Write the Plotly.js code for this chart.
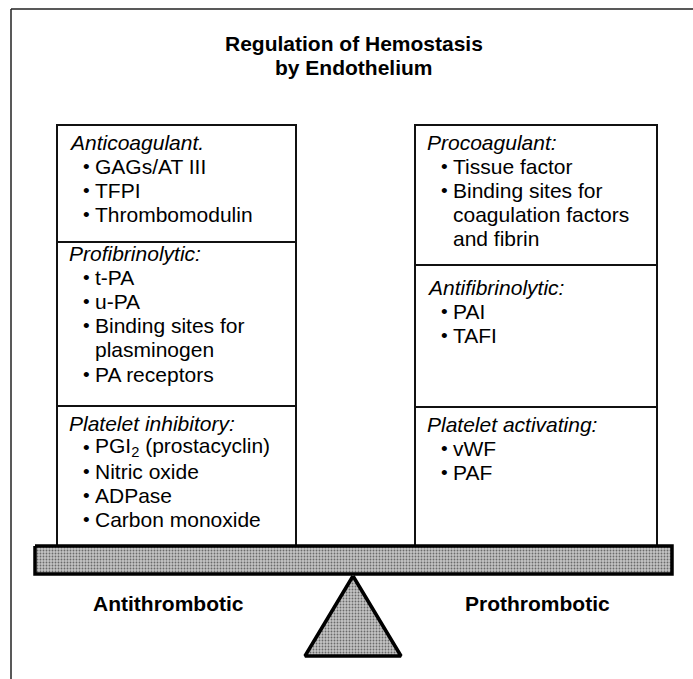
<!DOCTYPE html>
<html><head><meta charset="utf-8">
<script src="https://cdn.plot.ly/plotly-3.0.1.min.js"></script>
<style>html,body{margin:0;padding:0;background:#fff}</style>
</head><body><div id="chart" style="width:693px;height:679px"></div>
<script>
// ---- content ----
const titleLines = ["Regulation of Hemostasis", "by Endothelium"];
const sideLabels = ["Antithrombotic", "Prothrombotic"];
const leftHeaders = ["Anticoagulant.", "Profibrinolytic:", "Platelet inhibitory:"];
const leftItems = [
  ["GAGs/AT III", "TFPI", "Thrombomodulin"],
  ["t-PA", "u-PA", "Binding sites for|plasminogen", "PA receptors"],
  ["PGI<sub>2</sub> (prostacyclin)", "Nitric oxide", "ADPase", "Carbon monoxide"]
];
const rightHeaders = ["Procoagulant:", "Antifibrinolytic:", "Platelet activating:"];
const rightItems = [
  ["Tissue factor", "Binding sites for|coagulation factors|and fibrin"],
  ["PAI", "TAFI"],
  ["vWF", "PAF"]
];

// ---- layout geometry (pixels, y down) ----
const W = 693, H = 679;
const FONT = "'Liberation Sans', Arial, Helvetica, sans-serif";
const boxTop = 125, boxBottom = 546;
const columns = [
  {x0: 57, x1: 296, dividers: [242, 406], headerY: [142, 253, 423], headers: leftHeaders, items: leftItems},
  {x0: 415, x1: 657, dividers: [265, 407], headerY: [142, 287, 424], headers: rightHeaders, items: rightItems}
];
const lineStep = 24.2;
const beam = {x0: 35, x1: 672, y0: 546, y1: 574};
const tri = {apexX: 353, apexY: 576, baseY: 656, half: 48};

const shapes = [];
const annotations = [];
const ink = "#111";

// outer frame (top and left edges)
shapes.push({type: "line", x0: 11, x1: W, y0: 9, y1: 9, line: {color: "#222", width: 1.5}});
shapes.push({type: "line", x0: 11, x1: 11, y0: 9, y1: H, line: {color: "#222", width: 1.5}});

// title
titleLines.forEach((t, i) => annotations.push({
  x: 354, y: 43 + i * 24, text: "<b>" + t + "</b>", showarrow: false,
  xanchor: "center", yanchor: "middle", font: {family: FONT, size: 21, color: "#000"}
}));

columns.forEach(col => {
  shapes.push({type: "rect", x0: col.x0, x1: col.x1, y0: boxTop, y1: boxBottom,
    line: {color: ink, width: 2}, fillcolor: "rgba(0,0,0,0)", layer: "below"});
  col.dividers.forEach(d => shapes.push({type: "line", x0: col.x0, x1: col.x1, y0: d, y1: d,
    line: {color: ink, width: 1.8}, layer: "below"}));
  col.headers.forEach((h, s) => {
    annotations.push({x: col.x0 + 10, y: col.headerY[s], text: "<i>" + h + "</i>", showarrow: false,
      xanchor: "left", yanchor: "middle", font: {family: FONT, size: 21, color: "#000"}});
    let y = col.headerY[s];
    col.items[s].forEach(item => {
      const parts = item.split("|");
      parts.forEach((p, k) => {
        y += lineStep;
        if (k === 0) annotations.push({x: col.x0 + 24, y: y, text: "•", showarrow: false,
          xanchor: "left", yanchor: "middle", font: {family: FONT, size: 19, color: "#000"}});
        annotations.push({x: col.x0 + 36, y: y, text: p, showarrow: false,
          xanchor: "left", yanchor: "middle", font: {family: FONT, size: 21, color: "#000"}});
      });
    });
  });
});

// side labels
[168, 537].forEach((cx, i) => annotations.push({x: cx, y: 603, text: "<b>" + sideLabels[i] + "</b>",
  showarrow: false, xanchor: "center", yanchor: "middle", font: {family: FONT, size: 21, color: "#000"}}));

const speckle = {shape: ".", size: 3, solidity: 0.3, fgcolor: "#6a6a6a", bgcolor: "#c4c4c4", fillmode: "replace"};
const traces = [
  {type: "scatter", mode: "lines", x: [beam.x0, beam.x1, beam.x1, beam.x0, beam.x0],
   y: [beam.y0, beam.y0, beam.y1, beam.y1, beam.y0], fill: "toself", fillcolor: "#b0b0b0",
   fillpattern: speckle, line: {color: "#000", width: 3.5}, hoverinfo: "skip"},
  {type: "scatter", mode: "lines", x: [tri.apexX, tri.apexX + tri.half, tri.apexX - tri.half, tri.apexX],
   y: [tri.apexY, tri.baseY, tri.baseY, tri.apexY], fill: "toself", fillcolor: "#b0b0b0",
   fillpattern: speckle, line: {color: "#000", width: 3.5, join: "miter"}, hoverinfo: "skip"}
];

const layout = {
  width: W, height: H, margin: {l: 0, r: 0, t: 0, b: 0},
  paper_bgcolor: "#fff", plot_bgcolor: "#fff", showlegend: false,
  xaxis: {range: [0, W], visible: false, fixedrange: true},
  yaxis: {range: [H, 0], visible: false, fixedrange: true},
  shapes: shapes, annotations: annotations
};
Plotly.newPlot("chart", traces, layout, {staticPlot: true, displayModeBar: false});
</script></body></html>
